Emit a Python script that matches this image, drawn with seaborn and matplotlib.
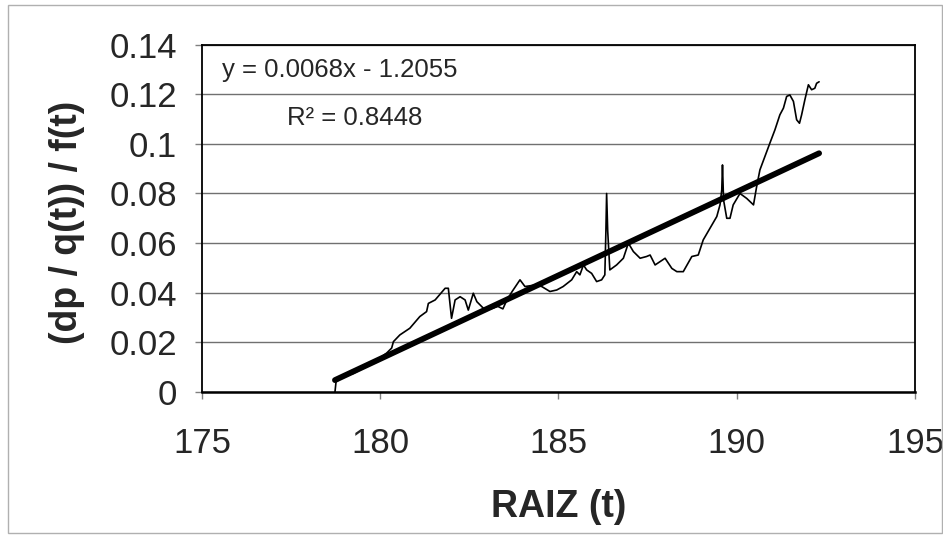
import numpy as np
import pandas as pd
import matplotlib
matplotlib.use("Agg")
import matplotlib.pyplot as plt
import seaborn as sns
from matplotlib.patches import Rectangle

# Values
raiz = [178.73, 178.76, 178.9, 179.1, 179.25, 179.38, 179.5, 179.7, 179.9, 180.18,
        180.32, 180.37, 180.55, 180.83, 181.11, 181.30, 181.35, 181.54, 181.82, 181.91,
        182.0, 182.10, 182.24, 182.38, 182.47, 182.61, 182.71, 182.89, 183.1, 183.3,
        183.44, 183.55, 183.7, 183.92, 184.06, 184.34, 184.53, 184.76, 184.95, 185.13,
        185.37, 185.51, 185.60, 185.70, 185.79, 185.93, 186.07, 186.21, 186.30, 186.33,
        186.35, 186.38, 186.44, 186.63, 186.82, 186.96, 187.10, 187.29, 187.47, 187.57,
        187.71, 187.99, 188.18, 188.32, 188.50, 188.74, 188.92, 189.06, 189.25, 189.44,
        189.53, 189.58, 189.60, 189.63, 189.72, 189.81, 189.90, 190.09, 190.28, 190.47,
        190.56, 190.65, 190.79, 190.93, 191.07, 191.21, 191.31, 191.40, 191.49, 191.59,
        191.68, 191.76, 191.82, 191.91, 192.01, 192.10, 192.19, 192.24, 192.31]
ratio = [0.0, 0.0041, 0.0055, 0.0068, 0.0075, 0.0085, 0.0095, 0.011, 0.0128, 0.0157,
         0.0177, 0.0203, 0.023, 0.0257, 0.0304, 0.0324, 0.0357, 0.0371, 0.0418, 0.0418,
         0.0297, 0.0371, 0.0384, 0.0371, 0.033, 0.0398, 0.0364, 0.0338, 0.0335, 0.0345,
         0.0335, 0.037, 0.0405, 0.0452, 0.0425, 0.0431, 0.0425, 0.0405, 0.0411, 0.0425,
         0.0452, 0.0485, 0.0472, 0.0512, 0.0492, 0.0478, 0.0445, 0.0452, 0.0472, 0.065,
         0.080, 0.065, 0.0492, 0.0512, 0.0539, 0.060, 0.0566, 0.0539, 0.0546, 0.0552,
         0.0512, 0.0539, 0.0498, 0.0485, 0.0485, 0.0546, 0.0552, 0.0613, 0.066, 0.0707,
         0.0754, 0.0815, 0.0915, 0.0774, 0.070, 0.070, 0.0754, 0.080, 0.078, 0.0754,
         0.0829, 0.0895, 0.0949, 0.1003, 0.1056, 0.1117, 0.1144, 0.1191, 0.1197, 0.1171,
         0.1097, 0.1083, 0.1117, 0.1177, 0.1238, 0.1218, 0.1224, 0.1244, 0.125]
assert len(raiz) == len(ratio)

# linear trend line (end points as drawn)
trend_x = [178.73, 192.31]
trend_y = [0.0048, 0.0962]

x_ticks = [175, 180, 185, 190, 195]
y_ticks = [0, 0.02, 0.04, 0.06, 0.08, 0.1, 0.12, 0.14]
y_tick_labels = ["0", "0.02", "0.04", "0.06", "0.08", "0.1", "0.12", "0.14"]

sns.set_style("white")
plt.rcParams["font.family"] = ["Liberation Sans", "DejaVu Sans"]

df = pd.DataFrame({"raiz": raiz, "ratio": ratio})
df_trend = pd.DataFrame({"raiz": trend_x, "ratio": trend_y})

fig = plt.figure(figsize=(9.43, 5.37), dpi=100)
ax = fig.add_axes([0.2142, 0.27, 0.7561, 0.647])

sns.lineplot(data=df, x="raiz", y="ratio", ax=ax, color="black", lw=1.2,
             estimator=None, sort=False)
sns.lineplot(data=df_trend, x="raiz", y="ratio", ax=ax, color="black", lw=4.2,
             estimator=None, sort=False, solid_capstyle="round")

ax.set_xlim(175, 195)
ax.set_ylim(0, 0.14)
ax.set_xticks(x_ticks)
ax.set_yticks(y_ticks)
ax.set_yticklabels(y_tick_labels)
ax.yaxis.grid(True, color="#707070", lw=1.0)
ax.set_axisbelow(True)

for s in ax.spines.values():
    s.set_visible(True)
    s.set_color("black")
    s.set_linewidth(1.3)
ax.spines["bottom"].set_linewidth(1.8)

ax.tick_params(axis="both", which="major", direction="out", length=5,
               color="#808080", width=1, labelsize=25)
ax.tick_params(axis="y", pad=13, left=True)
ax.tick_params(axis="x", pad=20, bottom=True)

ax.set_xlabel("RAIZ (t)", fontsize=27, fontweight="bold")
ax.set_ylabel("(dp / q(t)) / f(t)", fontsize=27, fontweight="bold")
ax.xaxis.set_label_coords(0.5, -0.28)
ax.yaxis.set_label_coords(-0.164, 0.487)

ax.text(0.028, 0.908, "y = 0.0068x - 1.2055", transform=ax.transAxes,
        fontsize=18.5, va="baseline", ha="left")
ax.text(0.119, 0.769, "R² = 0.8448", transform=ax.transAxes,
        fontsize=18.5, va="baseline", ha="left")

# chart-area border
fig.patches.append(Rectangle((0.009, 0.008), 0.99, 0.982, transform=fig.transFigure,
                             fill=False, edgecolor="#b0b0b0", lw=1))

fig.savefig("out.png", dpi=100)
